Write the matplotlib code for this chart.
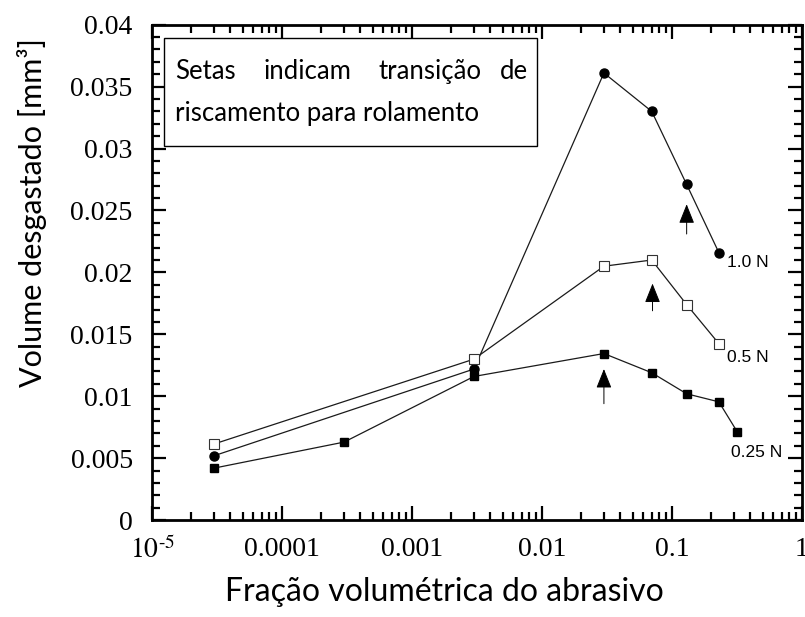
import matplotlib
matplotlib.use("Agg")
import matplotlib.pyplot as plt
from matplotlib.ticker import FixedLocator, LogLocator, MultipleLocator, NullFormatter

# volume fraction of abrasive
x_025 = [3e-5, 3e-4, 3e-3, 0.03, 0.07, 0.13, 0.23, 0.32]
y_025 = [0.0042, 0.0063, 0.0116, 0.01345, 0.0119, 0.0102, 0.00955, 0.0071]

x_05 = [3e-5, 3e-3, 0.03, 0.07, 0.13, 0.23]
y_05 = [0.00615, 0.0130, 0.0205, 0.0210, 0.0174, 0.01425]

x_10 = [3e-5, 3e-3, 0.03, 0.07, 0.13, 0.23]
y_10 = [0.0052, 0.0122, 0.0361, 0.0330, 0.0271, 0.0216]

# arrows: (x, tip, tail) - transition from scratching to rolling
arrows = [(0.13, 0.0255, 0.0231), (0.071, 0.0191, 0.0169), (0.03, 0.0122, 0.0094)]

load_labels = ["1.0 N", "0.5 N", "0.25 N"]
label_pos = [(0.265, 0.0208), (0.265, 0.0131), (0.285, 0.0055)]

x_ticks = [1e-5, 1e-4, 1e-3, 1e-2, 1e-1, 1]
x_ticklabels = [r"$10^{\text{-}5}$", "0.0001", "0.001", "0.01", "0.1", "1"]
y_ticks = [0, 0.005, 0.01, 0.015, 0.02, 0.025, 0.03, 0.035, 0.04]
y_ticklabels = ["0", "0.005", "0.01", "0.015", "0.02", "0.025", "0.03", "0.035", "0.04"]

plt.rcParams["mathtext.fontset"] = "stix"

fig = plt.figure(figsize=(8.05, 6.17), dpi=100)
ax = fig.add_axes([0.189, 0.157, 0.807, 0.803])

line_kw = dict(color="#1a1a1a", lw=0.9)
ax.plot(x_025, y_025, marker="s", ms=6, mfc="black", mec="black", **line_kw)
ax.plot(x_10, y_10, marker="o", ms=6.5, mfc="black", mec="black", **line_kw)
ax.plot(x_05, y_05, marker="s", ms=6.5, mfc="white", mec="#333333", mew=0.8, **line_kw)

for xa, tip, tail in arrows:
    ax.annotate("", xy=(xa, tip), xytext=(xa, tail),
                arrowprops=dict(arrowstyle="-|>,head_length=1.2,head_width=0.48",
                                color="black", lw=0.7, shrinkA=0, shrinkB=0))

for lab, (lx, ly) in zip(load_labels, label_pos):
    ax.text(lx, ly, lab, family="Liberation Sans", fontsize=12.5, ha="left", va="center")

ax.set_xscale("log")
ax.set_xlim(1e-5, 1)
ax.set_ylim(0, 0.04)

ax.xaxis.set_major_locator(FixedLocator(x_ticks))
ax.xaxis.set_minor_locator(LogLocator(base=10, subs=range(2, 10), numticks=20))
ax.xaxis.set_minor_formatter(NullFormatter())
ax.set_xticklabels(x_ticklabels, family="Liberation Serif", fontsize=20)
ax.yaxis.set_major_locator(FixedLocator(y_ticks))
ax.yaxis.set_minor_locator(MultipleLocator(0.001))
ax.set_yticklabels(y_ticklabels, family="Liberation Serif", fontsize=20)

ax.tick_params(which="both", direction="in", top=True, right=True, width=1.6)
ax.tick_params(which="major", length=10)
ax.tick_params(which="minor", length=6)
ax.tick_params(axis="y", pad=14)
ax.tick_params(axis="x", pad=12)
for sp in ax.spines.values():
    sp.set_linewidth(2)

ax.set_xlabel("Fração volumétrica do abrasivo", family="Lato", fontsize=23)
ax.set_ylabel("Volume desgastado [mm³]", family="Lato", fontsize=22)
ax.xaxis.set_label_coords(0.45, -0.115)
ax.yaxis.set_label_coords(-0.162, 0.62)

# note box with justified first line
box = plt.Rectangle((0.018, 0.755), 0.575, 0.218, transform=ax.transAxes,
                    fill=True, fc="white", ec="black", lw=1.0, zorder=3)
ax.add_patch(box)
words = ["Setas", "indicam", "transição", "de"]
word_x = [0.035, 0.171, 0.348, 0.578]
for w, wx in zip(words, word_x):
    ax.text(wx, 0.905, w, transform=ax.transAxes, family="Lato", fontsize=18.5,
            ha="right" if w == "de" else "left", va="center", zorder=4)
ax.text(0.035, 0.82, "riscamento para rolamento", transform=ax.transAxes,
        family="Lato", fontsize=18.5, ha="left", va="center", zorder=4)

fig.savefig("out.png", dpi=100)
